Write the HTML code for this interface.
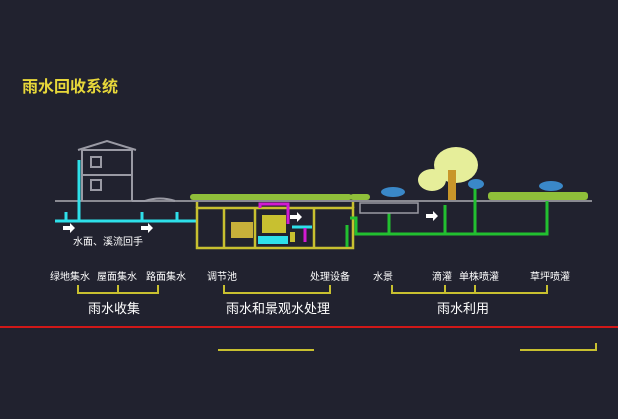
<!DOCTYPE html><html><head><meta charset="utf-8"><style>
html,body{margin:0;padding:0;background:#21222f;width:618px;height:419px;overflow:hidden}
svg{display:block}
text{font-family:"Liberation Sans","Noto Sans CJK SC",sans-serif}
</style></head><body>
<svg width="618" height="419" viewBox="0 0 618 419">
<rect width="618" height="419" fill="#21222f"/>
<text x="22" y="92" font-size="16" fill="#e8d83a" font-weight="bold">雨水回收系统</text>
<!-- ground -->
<line x1="55" y1="201" x2="592" y2="201" stroke="#8a8a92" stroke-width="2"/>
<!-- grass -->
<g fill="#8fbf3a">
<rect x="190" y="194" width="162" height="6" rx="3"/>
<rect x="350" y="194" width="20" height="6" rx="3"/>
<rect x="488" y="192" width="100" height="8" rx="3"/>
</g>
<!-- house -->
<g stroke="#9a9aa4" stroke-width="2" fill="none">
<path d="M82 201V150H132V201M78 150L107 141L136 150M82 175H132"/>
<rect x="91" y="157" width="10" height="10"/><rect x="91" y="180" width="10" height="10"/>
<path d="M132 201L145 201M145 201Q160 196 175 201"/>
</g>
<!-- cyan pipes -->
<g stroke="#2ee0ea" stroke-width="3" fill="none">
<line x1="55" y1="221" x2="196" y2="221"/>
<line x1="79" y1="160" x2="79" y2="221"/>
<line x1="66" y1="212" x2="66" y2="221"/>
<line x1="142" y1="212" x2="142" y2="221"/>
<line x1="177" y1="212" x2="177" y2="221"/>
</g>
<g fill="#fff"><path d="M63 226h7v-3l5 5-5 5v-3h-7z"/><path d="M141 226h7v-3l5 5-5 5v-3h-7z"/><path d="M290 215h7v-3l5 5-5 5v-3h-7z"/><path d="M426 214h7v-3l5 5-5 5v-3h-7z"/></g>
<text x="73" y="245" font-size="10" fill="#fff">水面、溪流回手</text>
<!-- tank -->
<g stroke="#c8c030" stroke-width="2.5" fill="none">
<rect x="197" y="208" width="156" height="40"/>
<line x1="224" y1="208" x2="224" y2="248"/>
<line x1="255" y1="208" x2="255" y2="248"/>
<line x1="314" y1="208" x2="314" y2="248"/>
<line x1="197" y1="202" x2="197" y2="208"/><line x1="353" y1="202" x2="353" y2="208"/>
</g>
<rect x="231" y="222" width="22" height="16" fill="#c8b03a"/>
<rect x="262" y="215" width="24" height="18" fill="#c8c030"/>
<path d="M260 208v-4h28v20" stroke="#d21ad2" stroke-width="3" fill="none"/>
<path d="M258 236h30v8h-30z" fill="#2ee0ea"/>
<line x1="292" y1="227" x2="312" y2="227" stroke="#2ee0ea" stroke-width="3"/>
<path d="M305 228v14" stroke="#d21ad2" stroke-width="3"/>
<rect x="290" y="232" width="5" height="10" fill="#c8c030"/>
<!-- green pipes -->
<g stroke="#22c030" stroke-width="3" fill="none">
<path d="M350 218h6v16h191V201"/>
<line x1="389" y1="213" x2="389" y2="234"/>
<line x1="445" y1="205" x2="445" y2="234"/>
<line x1="475" y1="188" x2="475" y2="234"/>
<line x1="347" y1="225" x2="347" y2="247"/>
</g>
<rect x="360" y="203" width="58" height="10" fill="none" stroke="#9a9aa4" stroke-width="1.5"/>
<!-- fountains -->
<g fill="#3a88c8"><ellipse cx="393" cy="192" rx="12" ry="5"/><ellipse cx="476" cy="184" rx="8" ry="5"/><ellipse cx="551" cy="186" rx="12" ry="5"/></g>
<!-- tree -->
<ellipse cx="456" cy="165" rx="22" ry="18" fill="#e6ee9a"/>
<ellipse cx="432" cy="180" rx="14" ry="11" fill="#e6ee9a"/>
<rect x="448" y="170" width="8" height="30" fill="#c8962a"/>
<!-- labels -->
<g font-size="10" fill="#fff">
<text x="50" y="280">绿地集水</text><text x="97" y="280">屋面集水</text><text x="146" y="280">路面集水</text>
<text x="207" y="280">调节池</text><text x="310" y="280">处理设备</text>
<text x="373" y="280">水景</text><text x="432" y="280">滴灌</text><text x="459" y="280">单株喷灌</text><text x="530" y="280">草坪喷灌</text>
</g>
<g stroke="#c8c030" stroke-width="2" fill="none">
<path d="M78 285v8h80v-8M118 285v8"/>
<path d="M224 285v8h106v-8"/>
<path d="M392 285v8h155v-8M445 285v8M475 285v8"/>
<path d="M218 350h96M520 350h76v-7"/>
</g>
<g font-size="13" fill="#fff">
<text x="88" y="313">雨水收集</text><text x="226" y="313">雨水和景观水处理</text><text x="437" y="313">雨水利用</text>
</g>
<line x1="0" y1="327" x2="618" y2="327" stroke="#d01818" stroke-width="2"/>
</svg>
</body></html>
